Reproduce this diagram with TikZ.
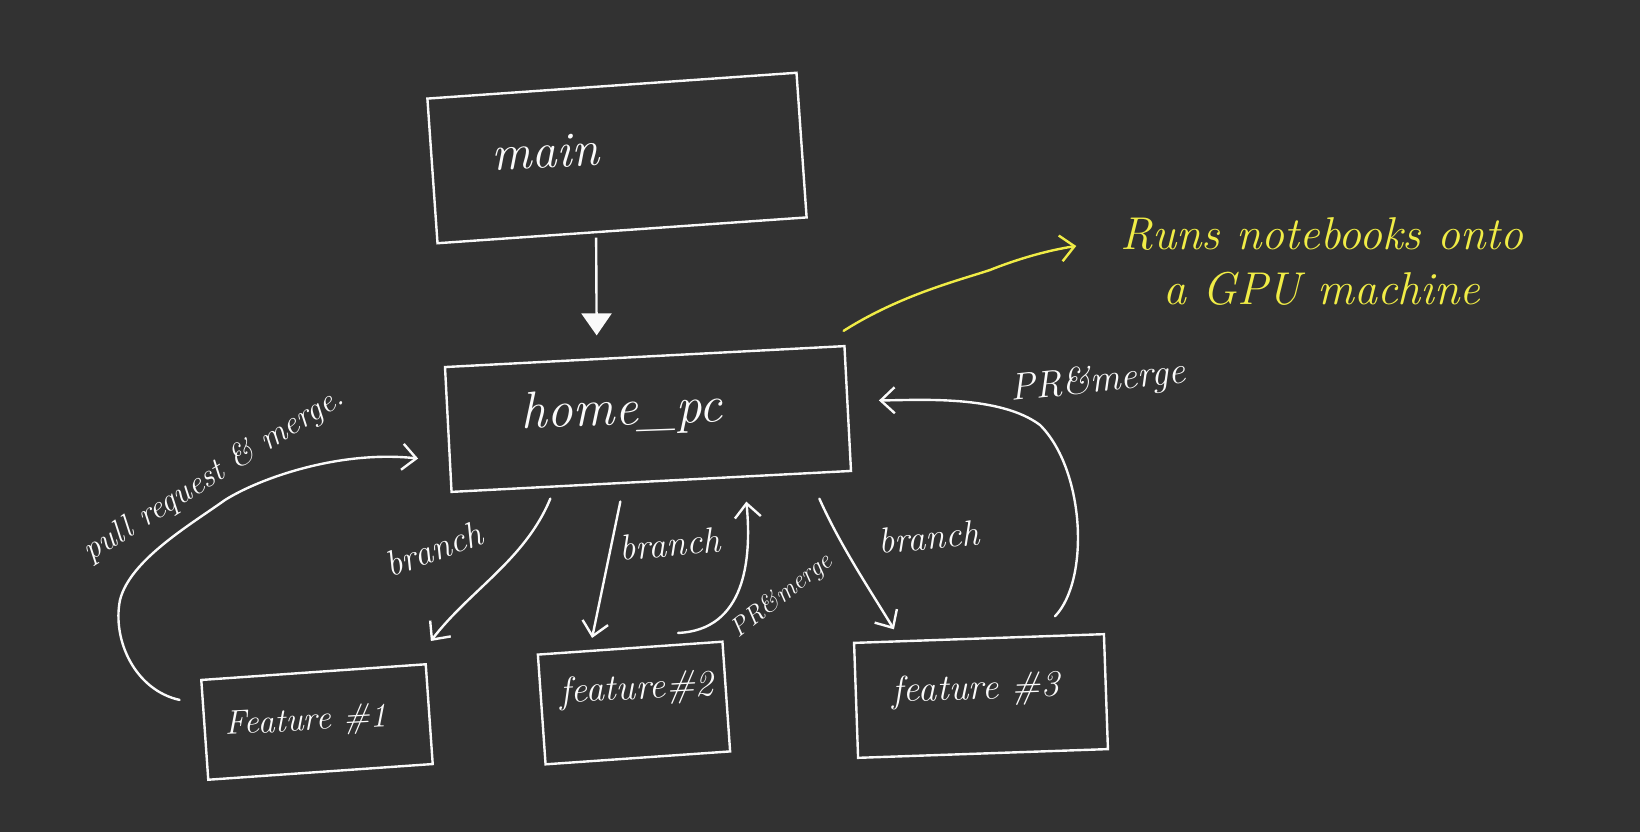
\documentclass[tikz,border=0pt]{standalone}
\usetikzlibrary{arrows.meta,calc}
\definecolor{bg}{RGB}{50,50,50}
\definecolor{ink}{RGB}{250,250,250}
\definecolor{hl}{RGB}{240,236,70}
\tikzset{
  box/.style={draw=ink, line width=2.4pt, minimum width=#1},
  lbl/.style={text=ink, font=\itshape, inner sep=0pt},
  arr/.style={draw=ink, line width=2.4pt, line cap=round, -{Straight Barb[length=14pt,width=26pt]}},
}
\begin{document}
\begin{tikzpicture}[x=1pt,y=-1pt]
\fill[bg] (0,0) rectangle (1640,832);
\useasboundingbox (0,0) rectangle (1640,832);

% boxes
\node[box=370pt, minimum height=145pt, rotate=4] (main) at (617,158) {};
\node[box=400pt, minimum height=125pt, rotate=3] (home) at (648,419) {};
\node[box=225pt, minimum height=100pt, rotate=4] (f1) at (317,722) {};
\node[box=185pt, minimum height=110pt, rotate=4] (f2) at (634,703) {};
\node[box=250pt, minimum height=115pt, rotate=2] (f3) at (981,696) {};

% box texts
\node[lbl, font=\fontsize{50}{60}\selectfont\itshape, rotate=3] (maint) at (545,152) {main};
\node[lbl, font=\fontsize{52}{62}\selectfont\itshape, rotate=2] (homet) at (622,412) {home\_pc};
\node[lbl, font=\fontsize{34}{40}\selectfont\itshape, rotate=3] (f1t) at (306,722) {Feature \#1};
\node[lbl, font=\fontsize{37}{44}\selectfont\itshape, rotate=3] (f2t) at (637,690) {feature\#2};
\node[lbl, font=\fontsize{37}{44}\selectfont\itshape, rotate=2] (f3t) at (976,690) {feature \#3};

% main -> home_pc
\draw[draw=ink, line width=2.4pt, -{Triangle[length=22pt,width=30pt]}]
  ($(main.south)+(-26,6)$) -- ($(home.north)+(-48,-20)$);

% branch arrows
\draw[arr] ($(home.south)+(-101,16)$) .. controls (525,560) and (470,590) .. ($(f1.north east)+(4,-22)$);
\draw[arr] ($(home.south)+(-31,19)$) -- ($(f2.north)+(-38,-9)$);
\draw[arr] ($(home.south)+(168,16)$) .. controls (840,545) and (870,590) .. ($(f3.north)+(-85,-8)$);

% PR & merge arrows
\draw[arr] ($(f2.north)+(48,-14)$) .. controls (745,630) and (752,560) .. ($(home.south)+(95,19)$);
\coordinate (r1) at (1040,425);
\draw[arr] ($(f3.north)+(76,-21)$) .. controls (1090,580) and (1085,470) .. (r1)
  .. controls (1000,395) and (920,400) .. ($(home.east)+(30,-8)$);
\coordinate (p1) at (120,600);
\coordinate (p2) at (225,500);
\draw[arr] ($(f1.west)+(-24,-30)$) .. controls (135,690) and (112,640) .. (p1)
  .. controls (130,560) and (190,525) .. (p2)
  .. controls (260,478) and (340,450) .. ($(home.west)+(-29,29)$);

% labels
\node[lbl, font=\fontsize{36}{42}\selectfont\itshape, rotate=20] (b1) at (434,549) {branch};
\node[lbl, font=\fontsize{36}{42}\selectfont\itshape, rotate=5] (b2) at (670,544) {branch};
\node[lbl, font=\fontsize{36}{42}\selectfont\itshape, rotate=5] (b3) at (929,537) {branch};
\node[lbl, font=\fontsize{33}{40}\selectfont\itshape, rotate=32] (prm) at (214,475) {pull request \& merge.};
\node[lbl, font=\fontsize{26}{32}\selectfont\itshape, rotate=38] (pr2) at (782,596) {PR\&merge};
\node[lbl, font=\fontsize{38}{44}\selectfont\itshape, rotate=6] (pr3) at (1098,382) {PR\&merge};

% yellow note
\node[text=hl, font=\fontsize{46}{55}\selectfont\itshape, align=center, inner sep=0pt] (gpu) at (1322,262)
  {Runs notebooks onto\\a GPU machine};
\draw[draw=hl, line width=2.4pt, line cap=round, -{Straight Barb[length=14pt,width=26pt]}]
  ($(home.north east)+(-2,-14)$) .. controls (900,295) and (960,280) .. (990,270)
  .. controls (1020,258) and (1050,250) .. ($(gpu.west)+(-44,-16)$);
\end{tikzpicture}
\end{document}
